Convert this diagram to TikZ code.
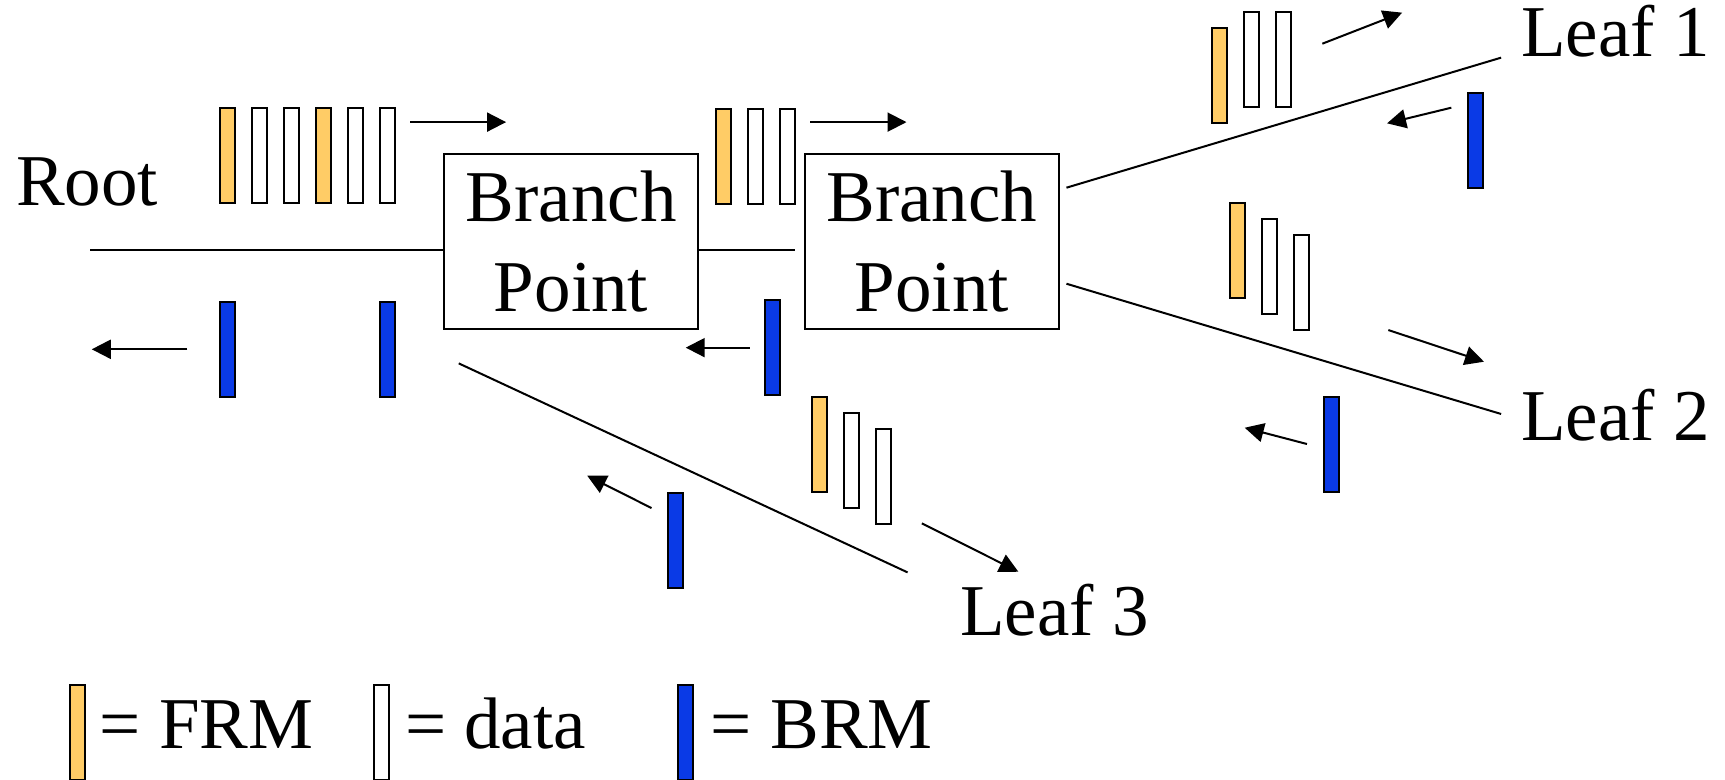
\documentclass[tikz,border=0pt]{standalone}
\usepackage{fontspec}
\setmainfont{Liberation Serif}
\usetikzlibrary{arrows.meta}
\definecolor{frmcol}{RGB}{255,204,102}
\definecolor{brmcol}{RGB}{10,58,230}
\tikzset{
  bar/.style={rectangle,draw=black,line width=2pt,minimum width=15pt,minimum height=95pt,inner sep=0pt},
  frm/.style={bar,fill=frmcol},
  dat/.style={bar,fill=white},
  brm/.style={bar,fill=brmcol},
  bpbox/.style={rectangle,draw=black,line width=2pt,minimum width=254pt,minimum height=174.7pt,inner sep=0pt,align=center,font=\fontsize{73pt}{90pt}\selectfont},
  lbl/.style={anchor=base west,inner sep=0pt,font=\fontsize{73pt}{88pt}\selectfont},
  wire/.style={line width=2pt},
  flow/.style={line width=2pt,-{Triangle[length=19pt,width=19pt]}}
}
\begin{document}
\begin{tikzpicture}[x=1.1001pt,y=-1.1001pt]
\useasboundingbox (0,0) rectangle (1568,709);
% boxes
\node[bpbox] (bp1) at (519.1,219.7) {Branch\\Point};
\node[bpbox] (bp2) at (847.1,219.7) {Branch\\Point};
% labels
\node[lbl] (root) at (14.5,186.4) {Root};
\node[lbl] (leaf1) at (1382.5,51.5) {Leaf 1};
\node[lbl] (leaf2) at (1382.5,400) {Leaf 2};
\node[lbl] (leaf3) at (872.5,577.2) {Leaf 3};
% tree lines
\coordinate (rl) at (82.2,227.3);
\coordinate (midend) at (723,227.3);
\draw[wire] (rl) -- (rl -| bp1.west);
\draw[wire] (midend -| bp1.east) -- (midend);
\coordinate (l1a) at (969.4,170.6);
\coordinate (l1b) at (1364.5,52.4);
\coordinate (l2a) at (969.4,257.9);
\coordinate (l2b) at (1364.5,376.3);
\coordinate (l3a) at (417,330.3);
\coordinate (l3b) at (825,520.3);
\draw[wire] (l1a) -- (l1b);
\draw[wire] (l2a) -- (l2b);
\draw[wire] (l3a) -- (l3b);
% cells: root -> bp1
\node[frm] (c1) at (206.5,141.6) {};
\node[dat] (c2) at (235.6,141.6) {};
\node[dat] (c3) at (264.6,141.6) {};
\node[frm] (c4) at (293.7,141.6) {};
\node[dat] (c5) at (322.7,141.6) {};
\node[dat] (c6) at (351.8,141.6) {};
\node[brm] (b1) at (206.5,318) {};
\node[brm] (b2) at (351.9,318) {};
% bp1 -> bp2
\node[frm] (m1) at (657.5,142) {};
\node[dat] (m2) at (686.5,142) {};
\node[dat] (m3) at (715.4,142) {};
\node[brm] (b3) at (702.6,316.3) {};
% leaf 1
\node[frm] (t1) at (1108.3,69) {};
\node[dat] (t2) at (1137.6,54.5) {};
\node[dat] (t3) at (1166.6,54.5) {};
\node[brm] (b4) at (1341,127.5) {};
% leaf 2
\node[frm] (s1) at (1124.7,227.5) {};
\node[dat] (s2) at (1153.6,241.8) {};
\node[dat] (s3) at (1182.6,256.5) {};
\node[brm] (b5) at (1210.2,403.7) {};
% leaf 3
\node[frm] (u1) at (744.9,403.7) {};
\node[dat] (u2) at (773.9,418.3) {};
\node[dat] (u3) at (802.9,432.7) {};
\node[brm] (b6) at (613.9,491) {};
% direction arrows
\draw[flow] (373,111) -- (460,111);
\draw[flow] (736.5,111) -- (824,111);
\draw[flow] (170.4,317.5) -- (83.4,317.5);
\draw[flow] (681.3,316) -- (623.3,316);
\draw[flow] (1202,39.7) -- (1274.5,11.5);
\draw[flow] (1319.2,97.9) -- (1260.8,112.1);
\draw[flow] (1262,300) -- (1348.9,328.8);
\draw[flow] (1188,403.6) -- (1131.4,388.8);
\draw[flow] (838,475.7) -- (925.7,519.7);
\draw[flow] (592.2,461.8) -- (533.8,432.4);
% legend
\node[frm] (kf) at (70.2,665.8) {};
\node[lbl] (kft) at (90.5,680.2) {= FRM};
\node[dat] (kd) at (346.8,665.8) {};
\node[lbl] (kdt) at (368,680.2) {= data};
\node[brm] (kb) at (623.2,665.8) {};
\node[lbl] (kbt) at (646,680.2) {= BRM};
\end{tikzpicture}
\end{document}
